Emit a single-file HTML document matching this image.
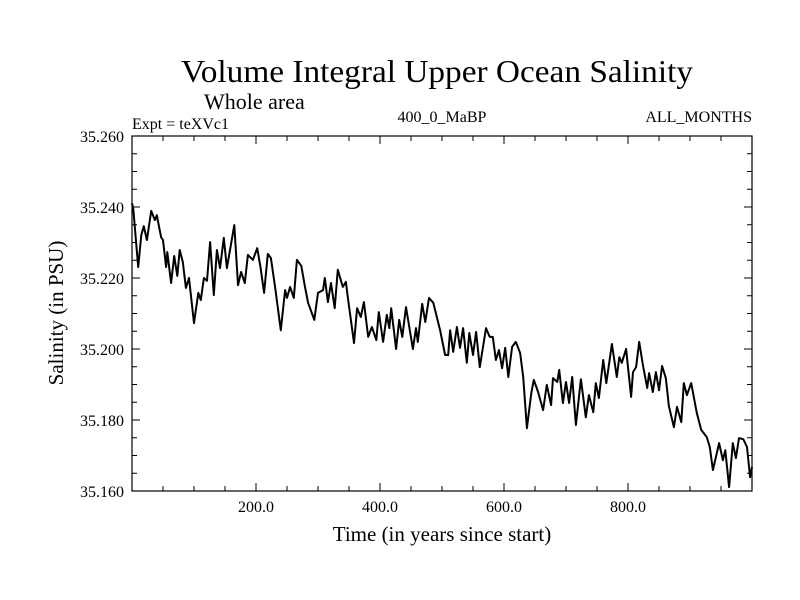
<!DOCTYPE html>
<html><head><meta charset="utf-8"><style>
html,body{margin:0;padding:0;background:#fff;}
svg{display:block;font-family:"Liberation Serif",serif;}
</style></head><body>
<svg id="chart" width="800" height="600" viewBox="0 0 800 600" xmlns="http://www.w3.org/2000/svg">
<text x="437" y="82" font-size="32" text-anchor="middle" textLength="512" lengthAdjust="spacingAndGlyphs">Volume Integral Upper Ocean Salinity</text>
<text x="204" y="109" font-size="22">Whole area</text>
<text x="132" y="129" font-size="16">Expt = teXVc1</text>
<text x="442" y="122" font-size="16" text-anchor="middle">400_0_MaBP</text>
<text x="752" y="122" font-size="16" text-anchor="end">ALL_MONTHS</text>
<text transform="translate(63,313) rotate(-90)" font-size="21" text-anchor="middle">Salinity (in PSU)</text>
<text x="442" y="541" font-size="21" text-anchor="middle">Time (in years since start)</text>
<g id="axes"></g>
<path id="series" fill="none" stroke="#000" stroke-width="2" stroke-linejoin="round"/>
<rect x="132" y="136" width="620" height="355" fill="none" stroke="#000" stroke-width="1.2"/>
</svg>
<script>
const years = [0,2,10,15,19,24,31,37,40,47,50,55,57,63,68,73,77,82,87,92,100,107,111,116,121,126,132,137,142,148,153,165,171,176,182,187,195,202,207,213,219,224,231,240,247,250,255,261,266,273,279,284,294,300,308,311,316,321,327,332,340,345,348,358,363,369,374,381,387,394,398,405,411,415,418,426,431,436,442,453,458,461,468,473,479,486,497,505,510,513,518,524,529,534,540,544,550,555,561,571,577,582,587,592,597,602,607,613,619,626,631,637,644,648,655,663,669,676,679,686,689,695,700,705,710,716,724,732,737,744,748,753,760,765,774,782,786,790,797,805,808,813,818,824,831,834,840,845,850,855,861,866,874,879,886,890,895,902,911,918,927,932,937,947,953,957,963,969,974,979,986,992,997,1000];
const salinity = [35.241,35.2397,35.2231,35.2321,35.2346,35.2307,35.2389,35.2363,35.2377,35.2315,35.2307,35.2231,35.2273,35.2186,35.2262,35.2206,35.2279,35.2245,35.2172,35.2200,35.2073,35.2158,35.2138,35.2200,35.2192,35.2301,35.2152,35.2279,35.2228,35.2313,35.2228,35.2349,35.2180,35.2217,35.2186,35.2265,35.2251,35.2284,35.2234,35.2158,35.2268,35.2256,35.2172,35.2053,35.2166,35.2144,35.2175,35.2144,35.2251,35.2234,35.2175,35.2130,35.2082,35.2158,35.2166,35.2200,35.2132,35.2186,35.2115,35.2223,35.2175,35.2189,35.2146,35.2017,35.2115,35.2090,35.2132,35.2034,35.2062,35.2025,35.2104,35.2020,35.2096,35.2059,35.2115,35.2000,35.2082,35.2034,35.2118,35.2000,35.2059,35.2020,35.2127,35.2076,35.2144,35.2130,35.2053,35.1983,35.1983,35.2053,35.1992,35.2062,35.2003,35.2059,35.1961,35.2045,35.1983,35.2048,35.1949,35.2059,35.2034,35.2034,35.1969,35.1997,35.1946,35.2003,35.1921,35.2006,35.2020,35.1989,35.1921,35.1777,35.1876,35.1913,35.1879,35.1828,35.1899,35.1842,35.1918,35.1907,35.1941,35.1848,35.1907,35.1848,35.1921,35.1786,35.1915,35.1808,35.1870,35.1822,35.1904,35.1862,35.1969,35.1904,35.2014,35.1921,35.1977,35.1961,35.2000,35.1865,35.1935,35.1949,35.2020,35.1955,35.1890,35.1932,35.1879,35.1935,35.1884,35.1952,35.1918,35.1839,35.1780,35.1837,35.1794,35.1904,35.1870,35.1904,35.1820,35.1772,35.1752,35.1724,35.1659,35.1735,35.1687,35.1715,35.1611,35.1735,35.1693,35.1749,35.1746,35.1724,35.1639,35.1668];
const xTickLabels = ["200.0","400.0","600.0","800.0"];
const xTickValues = [200,400,600,800];
const yTickValues = [35.26,35.24,35.22,35.20,35.18,35.16];
const yTickLabels = ["35.260","35.240","35.220","35.200","35.180","35.160"];

const L=132,R=752,T=136,B=491;
const xMin=0,xMax=1000,yMin=35.16,yMax=35.26;
function sx(v){return L+(v-xMin)/(xMax-xMin)*(R-L);}
function sy(v){return B-(v-yMin)/(yMax-yMin)*(B-T);}
const NS="http://www.w3.org/2000/svg";
const axes=document.getElementById('axes');
function line(x1,y1,x2,y2,name){
  const l=document.createElementNS(NS,'line');
  l.setAttribute('x1',x1);l.setAttribute('y1',y1);l.setAttribute('x2',x2);l.setAttribute('y2',y2);
  l.setAttribute('stroke','#000');l.setAttribute('stroke-width','1');
  
  
  axes.appendChild(l);
}
function text(x,y,s,anchor,name){
  const t=document.createElementNS(NS,'text');
  t.setAttribute('x',x);t.setAttribute('y',y);t.setAttribute('font-size','16');t.setAttribute('text-anchor',anchor);
  t.textContent=s;
  
  
  axes.appendChild(t);
}
for(let v=50;v<xMax;v+=50){
  const major=xTickValues.includes(v);const len=major?8:5;const x=sx(v);
  line(x,B,x,B-len,'x-tick');
  line(x,T,x,T+len,'x-tick-top');
}
xTickValues.forEach((v,i)=>text(sx(v),512,xTickLabels[i],'middle','x-tick-label'));
for(let k=1;k<20;k++){
  const v=yMin+k*0.005;const major=(k%4===0);const len=major?8:5;const y=sy(v);
  line(L,y,L+len,y,'y-tick');
  line(R,y,R-len,y,'y-tick-right');
}
yTickValues.forEach((v,i)=>text(124,sy(v)+6,yTickLabels[i],'end','y-tick-label'));
let d='';
years.forEach((yr,i)=>{d+=(i?'L':'M')+sx(yr).toFixed(1)+' '+sy(salinity[i]).toFixed(1);});
document.getElementById('series').setAttribute('d',d);
</script>
</body></html>
